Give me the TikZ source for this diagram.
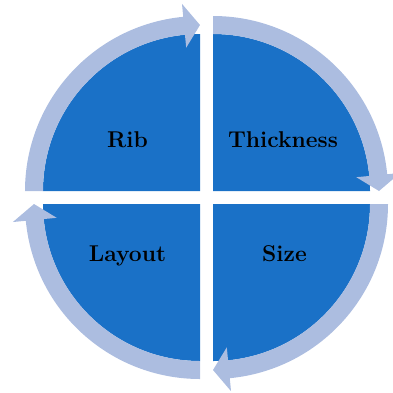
\documentclass[tikz,border=0pt]{standalone}
\usepackage{tikz}

\definecolor{quadblue}{HTML}{1A71C7}
\definecolor{ringblue}{HTML}{ACBDE0}

\tikzset{
    label text/.style={anchor=base, font=\fontsize{13}{15}\selectfont\bfseries, text=black}
}

\begin{document}
\begin{tikzpicture}
    % Fix the frame
    \useasboundingbox (-4.13,-3.89) rectangle (3.73,3.95);

    % Draw the four quadrants, each with its arrow
    \foreach \rot in {0,-90,-180,-270} {
        \begin{scope}[rotate=\rot, shift={(-0.13,0.13)}]
            \fill[quadblue] (0,0) -- (180:3.14) arc[start angle=180, end angle=90, radius=3.14] -- cycle;
            \fill[ringblue] (180:3.5) arc[start angle=180, end angle=95.5, radius=3.5]
                -- (95.5:3.76) -- (90:3.32) -- (95.5:2.88) -- (95.5:3.14)
                arc[start angle=95.5, end angle=180, radius=3.14] -- cycle;
        \end{scope}
    }

    % Add the labels
    \node[label text] (rib) at (-1.58,1.01) {Rib};
    \node[label text] (thickness) at (1.53,1.01) {Thickness};
    \node[label text] (size) at (1.56,-1.28) {Size};
    \node[label text] (layout) at (-1.58,-1.28) {Layout};
\end{tikzpicture}
\end{document}
